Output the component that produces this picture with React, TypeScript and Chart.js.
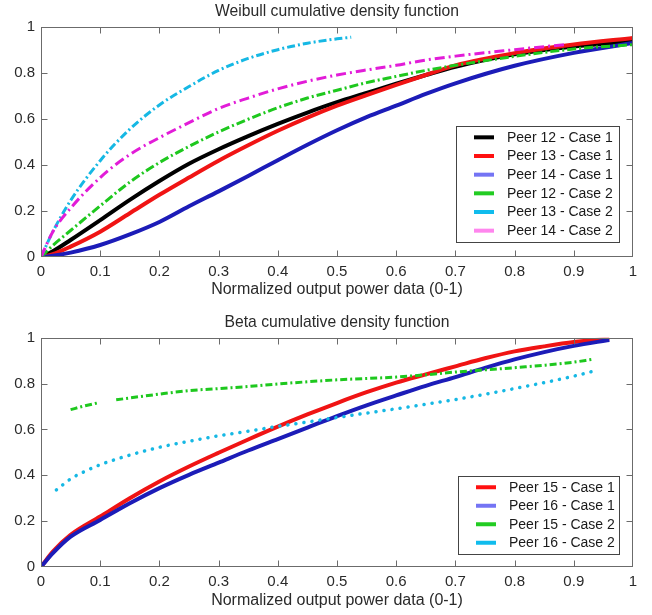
import React, { useEffect, useRef } from 'react';
import { Chart, registerables } from 'chart.js';

Chart.register(...registerables);

const FONT = '"Liberation Sans", Arial, Helvetica, sans-serif';
const TEXT = '#2a2a2a';

// ---------- Weibull (top) ----------
const weibullX = [0, 0.02, 0.05, 0.1, 0.15, 0.2, 0.25, 0.3, 0.35, 0.4, 0.45, 0.5, 0.55, 0.6, 0.65, 0.7, 0.8, 0.9, 1.0];
const w12Case1 = [0, 0.025, 0.074, 0.16, 0.248, 0.33, 0.405, 0.468, 0.525, 0.578, 0.627, 0.672, 0.712, 0.752, 0.79, 0.826, 0.88, 0.914, 0.936];
const w13Case1 = [0, 0.012, 0.045, 0.11, 0.19, 0.27, 0.345, 0.418, 0.485, 0.548, 0.605, 0.657, 0.703, 0.747, 0.79, 0.832, 0.885, 0.922, 0.951];
const w14Case1 = [0, 0.005, 0.019, 0.052, 0.098, 0.152, 0.22, 0.285, 0.352, 0.42, 0.487, 0.55, 0.607, 0.657, 0.708, 0.754, 0.83, 0.886, 0.929];
const w12Case2 = [0, 0.05, 0.115, 0.222, 0.325, 0.41, 0.48, 0.543, 0.598, 0.648, 0.69, 0.724, 0.757, 0.784, 0.81, 0.832, 0.871, 0.903, 0.922];
const w13Case2X = [0, 0.02, 0.05, 0.1, 0.15, 0.2, 0.25, 0.3, 0.35, 0.4, 0.45, 0.5, 0.524];
const w13Case2 = [0, 0.11, 0.245, 0.418, 0.555, 0.66, 0.74, 0.81, 0.862, 0.9, 0.928, 0.947, 0.954];
const w14Case2X = [0, 0.02, 0.05, 0.1, 0.15, 0.2, 0.25, 0.3, 0.35, 0.4, 0.45, 0.5, 0.55, 0.6, 0.65, 0.7, 0.8, 0.884];
const w14Case2 = [0, 0.11, 0.212, 0.345, 0.445, 0.518, 0.583, 0.645, 0.69, 0.73, 0.763, 0.79, 0.812, 0.832, 0.855, 0.872, 0.9, 0.922];

// ---------- Beta (bottom) ----------
const betaX = [0, 0.02, 0.05, 0.1, 0.15, 0.2, 0.25, 0.3, 0.35, 0.4, 0.45, 0.5, 0.55, 0.6, 0.65, 0.7, 0.75, 0.8, 0.85, 0.9, 0.96];
const b15Case1 = [0, 0.067, 0.14, 0.22, 0.3, 0.373, 0.438, 0.498, 0.556, 0.612, 0.665, 0.715, 0.762, 0.804, 0.84, 0.875, 0.91, 0.94, 0.962, 0.981, 0.996];
const b16Case1 = [0, 0.06, 0.132, 0.205, 0.278, 0.344, 0.402, 0.455, 0.508, 0.558, 0.608, 0.658, 0.705, 0.748, 0.79, 0.828, 0.868, 0.905, 0.937, 0.964, 0.99];
const b15Case2X = [0.05, 0.07, 0.095, 0.11, 0.127, 0.2, 0.25, 0.3, 0.35, 0.4, 0.5, 0.6, 0.65, 0.7, 0.8, 0.9, 0.93];
const b15Case2 = [0.686, 0.7, 0.715, null, 0.729, 0.754, 0.769, 0.778, 0.787, 0.798, 0.816, 0.828, 0.838, 0.85, 0.869, 0.893, 0.905];
const b16Case2X = [0.026, 0.05, 0.075, 0.1, 0.15, 0.2, 0.25, 0.3, 0.35, 0.4, 0.45, 0.5, 0.6, 0.7, 0.8, 0.9, 0.938];
const b16Case2 = [0.336, 0.384, 0.418, 0.446, 0.488, 0.522, 0.548, 0.572, 0.592, 0.613, 0.632, 0.652, 0.69, 0.73, 0.778, 0.832, 0.857];

const xTicksStep = 0.1;
const yTicksStep = 0.2;

const pts = (xs: number[], ys: (number | null)[]) => xs.map((x, i) => ({ x, y: ys[i] }));
const fmt = (v: any) => String(Math.round(Number(v) * 10) / 10);

const boxPlugin = {
  id: 'matlabBox',
  afterDatasetsDraw(chart: any) {
    const { ctx, chartArea: a, scales } = chart;
    ctx.save();
    ctx.strokeStyle = '#6b6b6b';
    ctx.lineWidth = 1;
    const L = Math.round(a.left) + 0.5, R = Math.round(a.right) - 0.5;
    const T = Math.round(a.top) + 0.5, B = Math.round(a.bottom) - 0.5;
    ctx.strokeRect(L, T, R - L, B - T);
    const len = 6;
    ctx.beginPath();
    scales.x.ticks.forEach((t: any) => {
      if (t.value <= 0 || t.value >= 1) return;
      const px = Math.round(scales.x.getPixelForValue(t.value)) + 0.5;
      ctx.moveTo(px, B); ctx.lineTo(px, B - len);
      ctx.moveTo(px, T); ctx.lineTo(px, T + len);
    });
    scales.y.ticks.forEach((t: any) => {
      if (t.value <= 0 || t.value >= 1) return;
      const py = Math.round(scales.y.getPixelForValue(t.value)) + 0.5;
      ctx.moveTo(L, py); ctx.lineTo(L + len, py);
      ctx.moveTo(R, py); ctx.lineTo(R - len, py);
    });
    ctx.stroke();
    ctx.restore();
  },
};

const legendPlugin = {
  id: 'insideLegend',
  afterDraw(chart: any, _args: any, opts: any) {
    const { ctx, chartArea: a } = chart;
    const ds = chart.data.datasets;
    const right = a.right - opts.right;
    const bottom = a.bottom - opts.bottom;
    const left = right - opts.width;
    const top = bottom - opts.height;
    ctx.save();
    ctx.fillStyle = '#ffffff';
    ctx.fillRect(left, top, opts.width, opts.height);
    ctx.strokeStyle = '#444444';
    ctx.lineWidth = 1;
    ctx.strokeRect(Math.round(left) + 0.5, Math.round(top) + 0.5, opts.width, opts.height);
    const rowH = (opts.height - 4) / ds.length;
    ctx.font = `14px ${FONT}`;
    ctx.textBaseline = 'middle';
    ctx.textAlign = 'left';
    ds.forEach((d: any, i: number) => {
      const cy = top + 2 + rowH * (i + 0.5);
      ctx.strokeStyle = d.legendColor || d.borderColor;
      ctx.lineWidth = 4;
      ctx.setLineDash([]);
      ctx.beginPath();
      ctx.moveTo(left + 18, cy);
      ctx.lineTo(left + 38, cy);
      ctx.stroke();
      ctx.fillStyle = '#1a1a1a';
      ctx.fillText(d.label, left + 51, cy + 0.5);
    });
    ctx.restore();
  },
};

type Cfg = {
  height: number;
  title: string;
  padTop: number;
  xHeight: number;
  xTitlePadBottom: number;
  legend: { right: number; bottom: number; width: number; height: number };
  datasets: any[];
};

function ChartPanel({ cfg }: { cfg: Cfg }) {
  const ref = useRef<HTMLCanvasElement | null>(null);
  useEffect(() => {
    if (!ref.current) return;
    const chart = new Chart(ref.current, {
      type: 'line',
      data: { datasets: cfg.datasets },
      options: {
        responsive: false,
        animation: false,
        devicePixelRatio: 1,
        layout: { padding: { top: cfg.padTop, right: 19, bottom: 0, left: 0 } },
        elements: { point: { radius: 0 }, line: { cubicInterpolationMode: 'monotone' } },
        plugins: {
          legend: { display: false },
          tooltip: { enabled: false },
          title: {
            display: true,
            fullSize: false,
            text: cfg.title,
            color: TEXT,
            font: { family: FONT, size: 15.7, weight: 'normal' },
            padding: { top: 0, bottom: 5.4 },
          },
          insideLegend: cfg.legend,
        } as any,
        scales: {
          x: {
            type: 'linear',
            min: 0,
            max: 1,
            ticks: { stepSize: xTicksStep, padding: 6, color: TEXT, font: { family: FONT, size: 15 }, maxRotation: 0, autoSkip: false, callback: fmt },
            grid: { display: false, drawTicks: false },
            border: { display: false },
            title: {
              display: true,
              text: 'Normalized output power data (0-1)',
              color: TEXT,
              font: { family: FONT, size: 16 },
              padding: { top: 0, bottom: cfg.xTitlePadBottom },
            },
            afterFit: (s: any) => { s.height = cfg.xHeight; },
          },
          y: {
            type: 'linear',
            min: 0,
            max: 1,
            ticks: { stepSize: yTicksStep, padding: 6, color: TEXT, font: { family: FONT, size: 15 }, callback: fmt },
            grid: { display: false, drawTicks: false },
            border: { display: false },
            afterFit: (s: any) => { s.width = 41; },
          },
        },
      } as any,
      plugins: [boxPlugin, legendPlugin],
    });
    return () => chart.destroy();
  }, []);
  return <canvas ref={ref} width={652} height={cfg.height} style={{ display: 'block', width: 652, height: cfg.height }} />;
}

const solid = (label: string, data: any[], color: string, legendColor: string, order: number) => ({
  label, data, borderColor: color, legendColor, borderWidth: 4, fill: false, order, spanGaps: false,
});
const dashed = (label: string, data: any[], color: string, legendColor: string, dash: number[], order: number, width = 3, cap = 'butt') => ({
  label, data, borderColor: color, legendColor, borderWidth: width, borderDash: dash, borderCapStyle: cap, fill: false, order, spanGaps: false,
});

const RED = '#f01414';
const BLUE = '#1c1cb8';
const GREEN = '#1ec81e';
const CYAN = '#16b8e4';
const MAGENTA = '#e21cd8';

const topCfg: Cfg = {
  height: 307,
  title: 'Weibull cumulative density function',
  padTop: 2.4,
  xHeight: 50,
  xTitlePadBottom: 7.4,
  legend: { right: 14, bottom: 15, width: 163, height: 116 },
  datasets: [
    solid('Peer 12 - Case 1', pts(weibullX, w12Case1), '#000000', '#000000', 0),
    solid('Peer 13 - Case 1', pts(weibullX, w13Case1), RED, '#ff1010', -1),
    solid('Peer 14 - Case 1', pts(weibullX, w14Case1), BLUE, '#7474f4', -2),
    dashed('Peer 12 - Case 2', pts(weibullX, w12Case2), GREEN, '#22cc22', [9, 3, 2, 3], -3),
    dashed('Peer 13 - Case 2', pts(w13Case2X, w13Case2), CYAN, '#10bced', [8, 3, 2, 3], -4),
    dashed('Peer 14 - Case 2', pts(w14Case2X, w14Case2), MAGENTA, '#ff86ee', [10, 4, 2, 4], -5),
  ],
};

const bottomCfg: Cfg = {
  height: 308,
  title: 'Beta cumulative density function',
  padTop: 6.4,
  xHeight: 48,
  xTitlePadBottom: 4.4,
  legend: { right: 14, bottom: 13, width: 161, height: 78 },
  datasets: [
    solid('Peer 15 - Case 1', pts(betaX, b15Case1), RED, '#ff1010', 0),
    solid('Peer 16 - Case 1', pts(betaX, b16Case1), BLUE, '#7474f4', -1),
    dashed('Peer 15 - Case 2', pts(b15Case2X, b15Case2), GREEN, '#22cc22', [7, 3, 2, 3], -2),
    dashed('Peer 16 - Case 2', pts(b16Case2X, b16Case2), CYAN, '#10bced', [0.1, 8], -3, 3.5, 'round'),
  ],
};

export default function App() {
  return (
    <div style={{ position: 'absolute', left: 0, top: 0, width: 652, height: 615, background: '#ffffff' }}>
      <ChartPanel cfg={topCfg} />
      <ChartPanel cfg={bottomCfg} />
    </div>
  );
}
